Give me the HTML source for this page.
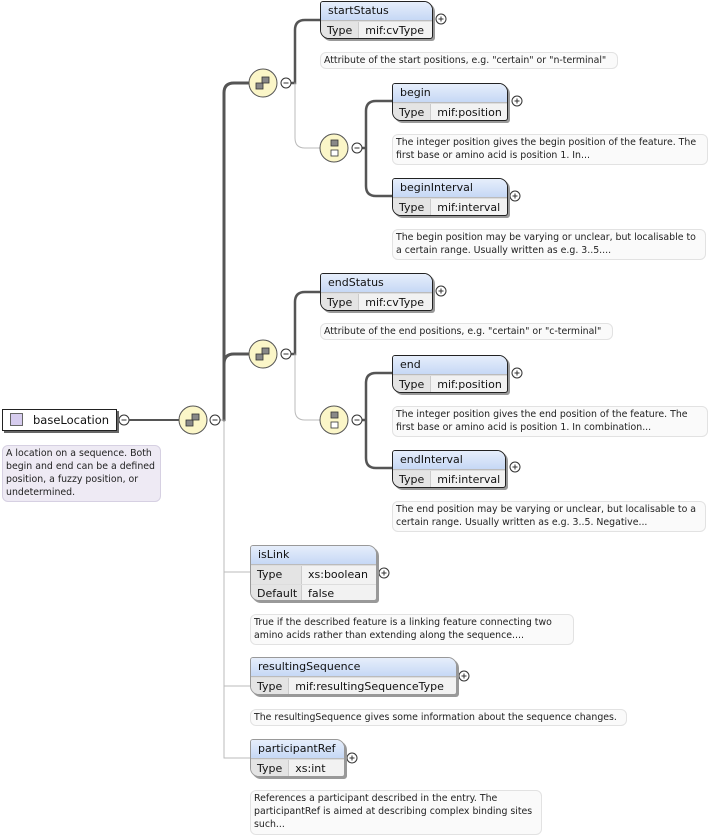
<!DOCTYPE html>
<html><head><meta charset="utf-8"><style>
body{margin:0;width:715px;height:839px;background:#fff;position:relative;overflow:hidden;font-family:"DejaVu Sans","Liberation Sans",sans-serif;}
.b{position:absolute;border:1px solid #222;border-radius:3px 9px 3px 9px;background:#f2f2f2;box-shadow:2px 2px 0 #999;overflow:hidden;font-size:11px;color:#111;box-sizing:border-box}
.b.o{border-color:#999}
.h{height:18px;line-height:18px;padding-left:7px;background:linear-gradient(#e6eefb,#c6d8f5);border-bottom:1px solid #bbb;white-space:nowrap}
.r{height:18px;line-height:18px;display:flex;border-top:1px solid #ddd;white-space:nowrap}
.r span:first-child{background:#e4e4e4;padding:0 6px;border-right:1px solid #ccc;display:inline-block}
.r span:last-child{padding:0 6px}
.d{position:absolute;border:1px solid #e2e2e2;border-radius:6px;background:#fafafa;font-size:9.4px;line-height:13px;color:#222;padding:1px 3px;box-sizing:border-box;white-space:nowrap}
</style></head><body>
<svg width="715" height="839" style="position:absolute;left:0;top:0">
<g fill="none" stroke-linecap="round">
<path d="M130 420 H179" stroke="#555" stroke-width="2"/>
<path d="M250 83 H234 Q224 83 224 93 V420" stroke="#555" stroke-width="3"/>
<path d="M250 354 H234 Q224 354 224 364 V420" stroke="#555" stroke-width="3"/>
<path d="M224 420 V758" stroke="#bbb" stroke-width="1"/>
<path d="M221 420 H214" stroke="#555" stroke-width="1"/>
<path d="M224 572 H250 M224 686 H250 M224 758 H250" stroke="#bbb" stroke-width="1"/>
<path d="M292 83 H295 V30 Q295 20 305 20 H320" stroke="#555" stroke-width="2.5"/>
<path d="M295 83 V138 Q295 148 305 148 H320" stroke="#bbb" stroke-width="1"/>
<path d="M292 354 H295 V302 Q295 292 305 292 H320" stroke="#555" stroke-width="2.5"/>
<path d="M295 354 V410 Q295 420 305 420 H320" stroke="#bbb" stroke-width="1"/>
<path d="M362 148 H366 M376 101 H392 M366 186 V111 Q366 101 376 101 M366 160 V186 Q366 196 376 196 H392" stroke="#555" stroke-width="2.5"/>
<path d="M362 420 H366 M376 373 H392 M366 458 V383 Q366 373 376 373 M366 432 V458 Q366 468 376 468 H392" stroke="#555" stroke-width="2.5"/>
</g>
<g stroke="#555" stroke-width="1" fill="#fbf6c8">
<circle cx="193" cy="420" r="14"/><circle cx="263" cy="83" r="14"/><circle cx="263" cy="354" r="14"/>
<circle cx="334" cy="148" r="14"/><circle cx="334" cy="420" r="14"/>
</g>
<g fill="#888" stroke="#333" stroke-width="0.8">
<rect x="186" y="420" width="7" height="6"/><rect x="192" y="414" width="7" height="6"/>
<rect x="256" y="83" width="7" height="6"/><rect x="262" y="77" width="7" height="6"/>
<rect x="256" y="354" width="7" height="6"/><rect x="262" y="348" width="7" height="6"/>
<rect x="331" y="140" width="7" height="6"/><rect x="331" y="150" width="7" height="6" fill="#fff"/>
<rect x="331" y="412" width="7" height="6"/><rect x="331" y="422" width="7" height="6" fill="#fff"/>
</g>
<g fill="#fff" stroke="#333" stroke-width="1">
<circle cx="124" cy="420" r="5"/><circle cx="215" cy="420" r="5"/><circle cx="286" cy="83" r="5"/><circle cx="286" cy="354" r="5"/><circle cx="357" cy="148" r="5"/><circle cx="357" cy="420" r="5"/>
<circle cx="441" cy="19" r="5"/><circle cx="517" cy="101" r="5"/><circle cx="515" cy="196" r="5"/><circle cx="441" cy="291" r="5"/><circle cx="517" cy="373" r="5"/><circle cx="515" cy="467" r="5"/><circle cx="384" cy="573" r="5"/><circle cx="464" cy="676" r="5"/><circle cx="352" cy="758" r="5"/>
</g>
<g stroke="#333" stroke-width="1"><path d="M121.5 420h5M212.5 420h5M283.5 83h5M283.5 354h5M354.5 148h5M354.5 420h5"/>
<path d="M438.5 19h5M441 16.5v5M514.5 101h5M517 98.5v5M512.5 196h5M515 193.5v5M438.5 291h5M441 288.5v5M514.5 373h5M517 370.5v5M512.5 467h5M515 464.5v5M381.5 573h5M384 570.5v5M461.5 676h5M464 673.5v5M349.5 758h5M352 755.5v5"/></g>
</svg>

<div class="b" style="left:2px;top:409px;width:115px;height:22px;border-radius:0;box-shadow:2px 2px 0 #666;background:#fff;font-size:11.5px;line-height:20px"><span style="display:inline-block;width:11px;height:11px;border:1px solid #666;background:#d6ccee;margin:0 10px 0 7px;vertical-align:-2px"></span>baseLocation</div>
<div class="d" style="left:2px;top:445px;width:159px;height:57px;background:#eeeaf4;border-color:#d6d0e2">A location on a sequence. Both<br>begin and end can be a defined<br>position, a fuzzy position, or<br>undetermined.</div>

<div class="b" style="left:320px;top:1px;width:113px;height:38px"><div class="h">startStatus</div><div class="r"><span>Type</span><span>mif:cvType</span></div></div>
<div class="d" style="left:320px;top:52px;width:298px;height:17px">Attribute of the start positions, e.g. "certain" or "n-terminal"</div>

<div class="b" style="left:392px;top:83px;width:116px;height:38px"><div class="h">begin</div><div class="r"><span>Type</span><span>mif:position</span></div></div>
<div class="d" style="left:392px;top:134px;width:316px;height:31px">The integer position gives the begin position of the feature. The<br>first base or amino acid is position 1. In...</div>

<div class="b" style="left:392px;top:178px;width:116px;height:38px"><div class="h">beginInterval</div><div class="r"><span>Type</span><span>mif:interval</span></div></div>
<div class="d" style="left:392px;top:229px;width:314px;height:31px">The begin position may be varying or unclear, but localisable to<br>a certain range. Usually written as e.g. 3..5....</div>

<div class="b" style="left:320px;top:273px;width:113px;height:38px"><div class="h">endStatus</div><div class="r"><span>Type</span><span>mif:cvType</span></div></div>
<div class="d" style="left:320px;top:323px;width:293px;height:17px">Attribute of the end positions, e.g. "certain" or "c-terminal"</div>

<div class="b" style="left:392px;top:355px;width:116px;height:38px"><div class="h">end</div><div class="r"><span>Type</span><span>mif:position</span></div></div>
<div class="d" style="left:392px;top:406px;width:316px;height:31px">The integer position gives the end position of the feature. The<br>first base or amino acid is position 1. In combination...</div>

<div class="b" style="left:392px;top:450px;width:114px;height:38px"><div class="h">endInterval</div><div class="r"><span>Type</span><span>mif:interval</span></div></div>
<div class="d" style="left:392px;top:501px;width:314px;height:31px">The end position may be varying or unclear, but localisable to a<br>certain range. Usually written as e.g. 3..5. Negative...</div>

<div class="b o" style="left:250px;top:545px;width:127px;height:56px"><div class="h">isLink</div><div class="r"><span style="width:38px">Type</span><span>xs:boolean</span></div><div class="r"><span style="width:38px">Default</span><span>false</span></div></div>
<div class="d" style="left:250px;top:614px;width:324px;height:31px">True if the described feature is a linking feature connecting two<br>amino acids rather than extending along the sequence....</div>

<div class="b o" style="left:250px;top:657px;width:207px;height:38px"><div class="h">resultingSequence</div><div class="r"><span>Type</span><span>mif:resultingSequenceType</span></div></div>
<div class="d" style="left:250px;top:709px;width:377px;height:17px">The resultingSequence gives some information about the sequence changes.</div>

<div class="b o" style="left:250px;top:739px;width:95px;height:38px"><div class="h">participantRef</div><div class="r"><span>Type</span><span>xs:int</span></div></div>
<div class="d" style="left:250px;top:790px;width:292px;height:45px">References a participant described in the entry. The<br>participantRef is aimed at describing complex binding sites<br>such...</div>
</body></html>
